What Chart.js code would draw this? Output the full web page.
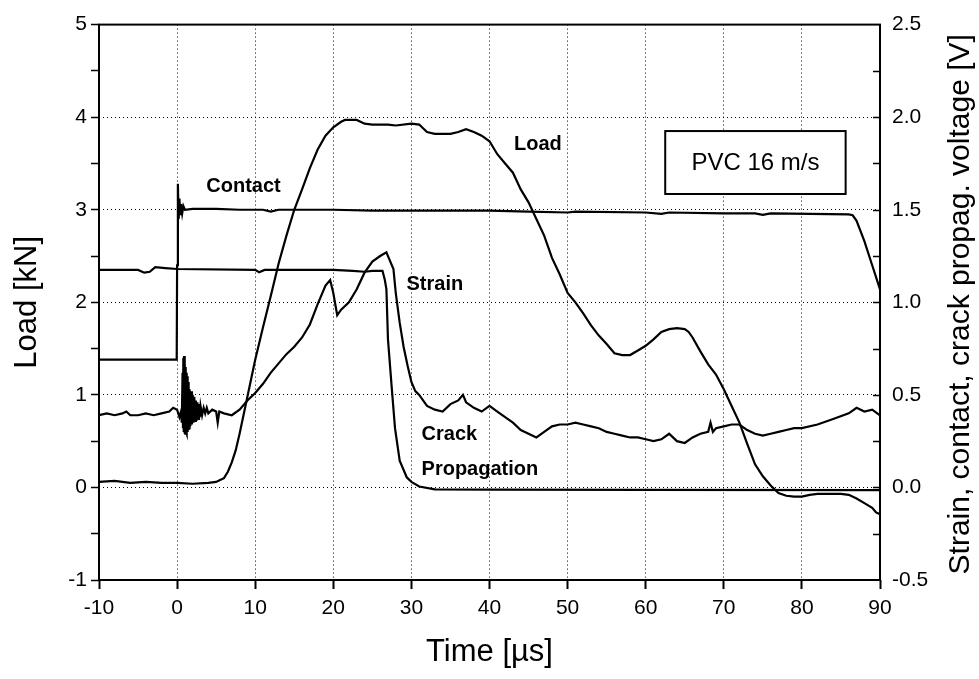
<!DOCTYPE html>
<html>
<head>
<meta charset="utf-8">
<script src="https://cdn.jsdelivr.net/npm/chart.js@4/dist/chart.umd.min.js"></script>
<style>
  body { margin: 0; background: #fff; }
  #wrap { width: 979px; height: 679px; }
</style>
</head>
<body>
<div id="wrap"><canvas id="chart" width="979" height="679"></canvas></div>
<script>
// Load in kN (left axis), [time µs, value]
const loadPts = [
    [-10, 0.06], [-8, 0.07], [-6, 0.05], [-4, 0.06], [-2, 0.05], [0, 0.05], [2, 0.04], [4, 0.05],
    [5, 0.06], [5.5, 0.08], [6, 0.1], [6.5, 0.17], [7, 0.27], [7.5, 0.4], [8, 0.58], [9, 0.98],
    [10, 1.38], [11, 1.73], [12, 2.07], [13, 2.42], [14, 2.72], [15, 3.0], [16, 3.22], [17, 3.45],
    [18, 3.65], [19, 3.8], [20, 3.89], [21, 3.95], [21.5, 3.97], [23, 3.97], [24, 3.93], [25, 3.92],
    [27, 3.92], [28, 3.91], [30, 3.93], [31, 3.92], [32, 3.84], [33, 3.82], [35, 3.82], [36, 3.84],
    [37, 3.87], [38, 3.84], [39, 3.8], [40, 3.74], [41, 3.6], [42, 3.5], [43, 3.4], [44, 3.22],
    [45, 3.08], [46, 2.9], [47, 2.72], [48, 2.48], [49, 2.3], [50, 2.1], [51, 2.0], [52, 1.88],
    [53, 1.75], [54, 1.64], [55, 1.55], [56, 1.45], [57, 1.43], [58, 1.43], [59, 1.48], [60, 1.53],
    [61, 1.6], [62, 1.68], [63, 1.71], [64, 1.72], [65, 1.71], [65.5, 1.68], [66, 1.62], [67, 1.47],
    [68, 1.33], [69, 1.22], [70, 1.06], [71, 0.88], [72, 0.7], [73, 0.47], [74, 0.25], [75, 0.12],
    [76, 0.02], [77, -0.06], [78, -0.09], [79, -0.1], [80, -0.1], [81, -0.08], [82, -0.07], [84, -0.07],
    [85, -0.07], [86, -0.08], [87, -0.12], [88, -0.17], [89, -0.22], [89.5, -0.27], [90, -0.29]
];

// Voltages (right axis), [time µs, V]
const contactPts = [
    [-10, 0.69], [-0.05, 0.69], [0, 1.2], [0.1, 1.64], [0.2, 1.45], [0.3, 1.56], [0.4, 1.47],
    [0.5, 1.53], [0.65, 1.48], [0.8, 1.52], [1, 1.5], [2, 1.505], [5, 1.505], [8, 1.5], [11, 1.5],
    [12, 1.49], [13, 1.5], [20, 1.5], [25, 1.495], [30, 1.495], [40, 1.495], [45, 1.49], [50, 1.485],
    [51, 1.49], [60, 1.485], [62, 1.478], [63, 1.485], [70, 1.48], [74, 1.48], [75, 1.472], [76, 1.48],
    [86, 1.475], [86.5, 1.47], [87, 1.44], [88, 1.33], [89, 1.2], [90, 1.07]
];

const strainPts = [
    [-10, 0.39], [-9, 0.4], [-8, 0.39], [-7, 0.4], [-6.5, 0.41], [-6, 0.39], [-5, 0.39], [-4, 0.4],
    [-3, 0.39], [-2, 0.4], [-1, 0.41], [-0.5, 0.43], [0, 0.42], [0.3, 0.38], [0.5, 0.41], [0.6, 0.35],
    [0.7, 0.62], [0.75, 0.32], [0.8, 0.7], [0.85, 0.3], [0.9, 0.71], [0.95, 0.29], [1.0, 0.68],
    [1.05, 0.29], [1.1, 0.65], [1.15, 0.3], [1.2, 0.62], [1.25, 0.29], [1.3, 0.6], [1.35, 0.3],
    [1.4, 0.57], [1.45, 0.31], [1.5, 0.55], [1.55, 0.32], [1.6, 0.53], [1.7, 0.33], [1.8, 0.52],
    [1.9, 0.34], [2.0, 0.5], [2.1, 0.35], [2.2, 0.49], [2.3, 0.36], [2.4, 0.47], [2.5, 0.36],
    [2.6, 0.46], [2.7, 0.37], [2.8, 0.45], [2.9, 0.38], [3.0, 0.44], [3.2, 0.39], [3.4, 0.43],
    [3.6, 0.4], [3.8, 0.43], [4.0, 0.4], [4.5, 0.42], [5.0, 0.41], [5.2, 0.35], [5.4, 0.41], [6, 0.4],
    [7, 0.39], [8, 0.42], [9, 0.47], [10, 0.51], [11, 0.56], [12, 0.62], [13, 0.67], [14, 0.72],
    [15, 0.76], [16, 0.81], [17, 0.88], [18, 0.99], [19, 1.09], [19.6, 1.12], [20.0, 1.05], [20.5, 0.93],
    [21, 0.96], [22, 1.0], [23, 1.07], [24, 1.16], [25, 1.22], [26, 1.25], [26.8, 1.27], [27.3, 1.22],
    [27.7, 1.18], [28, 1.05], [28.5, 0.89], [29, 0.76], [29.5, 0.66], [30, 0.57], [30.5, 0.52],
    [31, 0.5], [32, 0.44], [33, 0.42], [34, 0.41], [35, 0.45], [36, 0.47], [36.6, 0.5], [37, 0.46],
    [38, 0.43], [39, 0.41], [40, 0.44], [41, 0.41], [42, 0.38], [43, 0.35], [44, 0.31], [45, 0.29],
    [46, 0.27], [47, 0.3], [48, 0.33], [49, 0.34], [50, 0.34], [51, 0.35], [52, 0.34], [53, 0.33],
    [54, 0.32], [55, 0.3], [56, 0.29], [57, 0.28], [58, 0.27], [59, 0.27], [60, 0.26], [61, 0.25],
    [62, 0.26], [63, 0.29], [64, 0.25], [65, 0.24], [66, 0.27], [67, 0.29], [68, 0.3], [68.3, 0.35],
    [68.6, 0.3], [69, 0.32], [70, 0.33], [71, 0.34], [72, 0.34], [73, 0.31], [74, 0.29], [75, 0.28],
    [76, 0.29], [77, 0.3], [78, 0.31], [79, 0.32], [80, 0.32], [82, 0.34], [84, 0.37], [86, 0.4],
    [87, 0.43], [88, 0.41], [89, 0.42], [90, 0.39]
];

const crackPts = [
    [-10, 1.175], [-5, 1.175], [-4.2, 1.16], [-3.5, 1.165], [-2.8, 1.19], [-1.5, 1.185], [0, 1.18],
    [10, 1.175], [10.5, 1.162], [11.2, 1.175], [20, 1.175], [22.5, 1.17], [24, 1.165], [25, 1.17],
    [26.3, 1.17], [26.6, 1.12], [26.8, 1.07], [27, 0.8], [27.5, 0.53], [27.9, 0.32], [28.5, 0.145],
    [29.4, 0.055], [30, 0.03], [31, 0.005], [33, -0.01], [40, -0.012], [60, -0.013], [90, -0.015]
];

// Curve labels: [text, time, kN, align]
const curveLabels = [
    ['Contact', 8.5, 3.25, 'center'],
    ['Load', 46.2, 3.71, 'center'],
    ['Strain', 33.0, 2.19, 'center'],
    ['Crack', 31.3, 0.57, 'left'],
    ['Propagation', 31.3, 0.19, 'left']
];
const boxText = 'PVC 16 m/s';
const boxRange = { t0: 62.5, t1: 85.6, kTop: 3.85, kBottom: 3.17 };
const rightTitle = 'Strain, contact, crack propag. voltage [V]';

const FONT = "'Liberation Sans', Arial, sans-serif";

function toXY(pts) {
    return pts.map(p => ({ x: p[0], y: p[1] }));
}

function line(pts, axis) {
    return {
        data: toXY(pts),
        yAxisID: axis,
        borderColor: '#000',
        borderWidth: 2.2,
        pointRadius: 0,
        tension: 0,
        fill: false
    };
}

// Frame, inward right ticks, curve labels, text box and right title
const decor = {
    id: 'decor',
    afterDatasetsDraw(chart) {
        const ctx = chart.ctx;
        const a = chart.chartArea;
        const x = chart.scales.x;
        const y = chart.scales.y;
        const y2 = chart.scales.y2;
        ctx.save();

        // text box
        const bx0 = x.getPixelForValue(boxRange.t0);
        const bx1 = x.getPixelForValue(boxRange.t1);
        const by0 = y.getPixelForValue(boxRange.kTop);
        const by1 = y.getPixelForValue(boxRange.kBottom);
        ctx.fillStyle = '#fff';
        ctx.fillRect(bx0, by0, bx1 - bx0, by1 - by0);
        ctx.strokeStyle = '#000';
        ctx.lineWidth = 2;
        ctx.strokeRect(bx0, by0, bx1 - bx0, by1 - by0);
        ctx.fillStyle = '#000';
        ctx.font = '24px ' + FONT;
        ctx.textAlign = 'center';
        ctx.textBaseline = 'middle';
        ctx.fillText(boxText, (bx0 + bx1) / 2, (by0 + by1) / 2 + 1);

        // curve labels
        ctx.font = 'bold 20px ' + FONT;
        curveLabels.forEach(([txt, t, k, align]) => {
            ctx.textAlign = align;
            ctx.fillText(txt, x.getPixelForValue(t), y.getPixelForValue(k));
        });

        // right axis inward ticks
        ctx.lineWidth = 1.5;
        ctx.beginPath();
        for (let v = -0.25; v < 2.5; v += 0.25) {
            const py = Math.round(y2.getPixelForValue(v)) + 0.5;
            ctx.moveTo(a.right, py);
            ctx.lineTo(a.right - 7, py);
        }
        ctx.stroke();

        // frame
        ctx.lineWidth = 2;
        ctx.strokeRect(a.left, a.top, a.right - a.left, a.bottom - a.top);

        // right axis title, reading bottom to top
        ctx.translate(961, (a.top + a.bottom) / 2 + 2);
        ctx.rotate(-Math.PI / 2);
        ctx.font = '30px ' + FONT;
        ctx.textAlign = 'center';
        ctx.fillText(rightTitle, 0, 0);
        ctx.restore();
    }
};

new Chart(document.getElementById('chart'), {
    type: 'line',
    data: {
        datasets: [
            line(loadPts, 'y'),
            line(contactPts, 'y2'),
            line(strainPts, 'y2'),
            line(crackPts, 'y2')
        ]
    },
    options: {
        responsive: false,
        animation: false,
        layout: { padding: { top: 19, left: 0, right: 0, bottom: 0 } },
        plugins: { legend: { display: false }, tooltip: { enabled: false } },
        scales: {
            x: {
                type: 'linear',
                min: -10,
                max: 90,
                ticks: { stepSize: 10, color: '#000', font: { family: FONT, size: 21 }, padding: 7 },
                grid: { color: '#000', lineWidth: 1, tickLength: 9, tickColor: '#000', tickWidth: 2 },
                border: { display: false, dash: [1, 3] },
                title: {
                    display: true, text: 'Time [µs]', color: '#000',
                    font: { family: FONT, size: 31 }, padding: { top: 0, bottom: 8 }
                },
                afterFit(s) { s.height = 99; }
            },
            y: {
                position: 'left',
                min: -1,
                max: 5,
                ticks: {
                    stepSize: 0.5, autoSkip: false, color: '#000',
                    font: { family: FONT, size: 21 }, padding: 4,
                    callback: v => (Number.isInteger(v) ? v : '')
                },
                grid: {
                    color: c => (c.tick && Number.isInteger(c.tick.value) ? '#000' : 'rgba(0,0,0,0)'),
                    lineWidth: 1, tickLength: 8, tickColor: '#000', tickWidth: 1.5
                },
                border: { display: false, dash: [1, 3] },
                title: {
                    display: true, text: 'Load [kN]', color: '#000',
                    font: { family: FONT, size: 31 }, padding: { top: 9, bottom: 0 }
                },
                afterFit(s) { s.width = 99; }
            },
            y2: {
                position: 'right',
                min: -0.5,
                max: 2.5,
                ticks: {
                    stepSize: 0.5, color: '#000', font: { family: FONT, size: 21 }, padding: 12,
                    callback: v => v.toFixed(1)
                },
                grid: { drawOnChartArea: false, drawTicks: false },
                border: { display: false },
                afterFit(s) { s.width = 99; }
            }
        }
    },
    plugins: [decor]
});
</script>
</body>
</html>
